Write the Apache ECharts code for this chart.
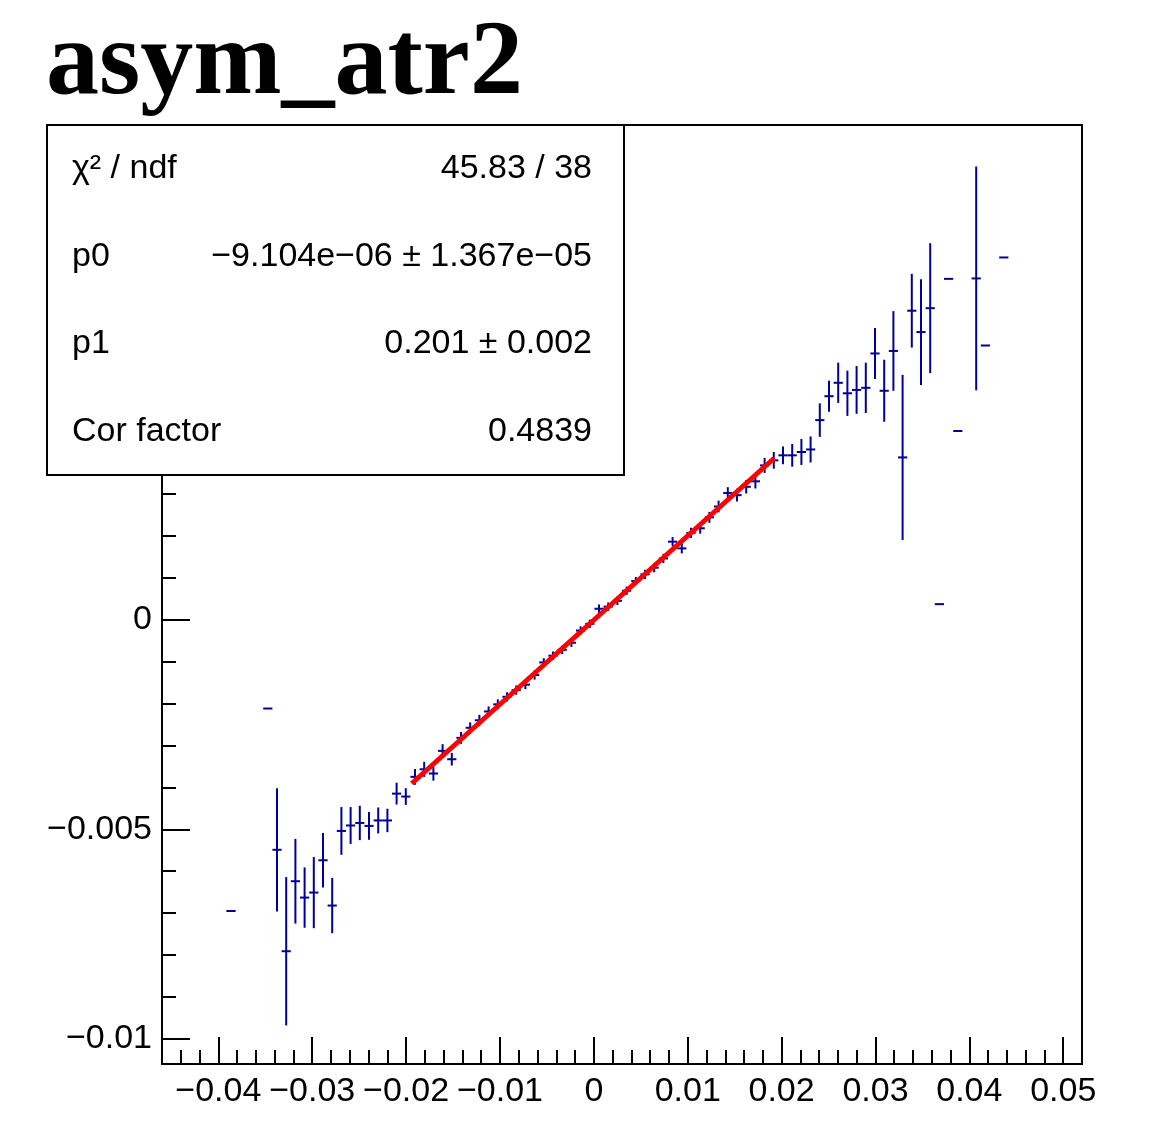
<!DOCTYPE html>
<html lang="en">
<head>
  <meta charset="UTF-8">
  <title>asym_atr2</title>
  <style>
    html, body { margin: 0; padding: 0; background: #fff; }
    #myEcharts { width: 1153px; height: 1133px; }
  </style>
  <script src="https://cdn.jsdelivr.net/npm/echarts@6/dist/echarts.min.js"></script>
</head>
<body>
  <div id="myEcharts"></div>
  <script>
    // profile bin centres, mean values and errors
    var xs = [-0.03865, -0.03473, -0.03375, -0.03277, -0.03179, -0.03081, -0.02983, -0.02885, -0.02787, -0.02689,
      -0.02591, -0.02493, -0.02395, -0.02297, -0.02199, -0.02101, -0.02003, -0.01905, -0.01807, -0.01709,
      -0.01611, -0.01513, -0.01415, -0.01317, -0.01219, -0.01121, -0.01023, -0.00925, -0.00827, -0.00729,
      -0.00631, -0.00533, -0.00435, -0.00337, -0.00239, -0.00141, -0.00043, 0.00055, 0.00153, 0.00251,
      0.00349, 0.00447, 0.00545, 0.00643, 0.00741, 0.00839, 0.00937, 0.01035, 0.01133, 0.01231,
      0.01329, 0.01427, 0.01525, 0.01623, 0.01721, 0.01819, 0.01917, 0.02015, 0.02113, 0.02211,
      0.02309, 0.02407, 0.02505, 0.02603, 0.02701, 0.02799, 0.02897, 0.02995, 0.03093, 0.03191,
      0.03289, 0.03387, 0.03485, 0.03583, 0.03681, 0.03779, 0.03877, 0.04073, 0.04171, 0.04367];
    var ys = [-0.00695, -0.00212, -0.00549, -0.00791, -0.00624, -0.00663, -0.00651, -0.00574, -0.00682, -0.00504,
      -0.00491, -0.00485, -0.00492, -0.00479, -0.00479, -0.00415, -0.00422, -0.00375, -0.00357, -0.00367,
      -0.00313, -0.00333, -0.00282, -0.00258, -0.00240, -0.00219, -0.00202, -0.00184, -0.00168, -0.00155,
      -0.00132, -0.00102, -0.00086, -0.00072, -0.00055, -0.00026, -0.00010, 0.00026, 0.00031, 0.00045,
      0.00069, 0.00092, 0.00108, 0.00124, 0.00146, 0.00186, 0.00170, 0.00207, 0.00218, 0.00244,
      0.00270, 0.00302, 0.00297, 0.00317, 0.00330, 0.00368, 0.00380, 0.00392, 0.00392, 0.00400,
      0.00406, 0.00476, 0.00533, 0.00565, 0.00540, 0.00548, 0.00553, 0.00635, 0.00546, 0.00641,
      0.00387, 0.00737, 0.00686, 0.00743, 0.00037, 0.00813, 0.00450, 0.00814, 0.00654, 0.00864];
    var errs = [0, 0, 0.00147, 0.00177, 0.00101, 0.00072, 0.00085, 0.00065, 0.00066, 0.00057,
      0.00044, 0.00041, 0.00033, 0.00031, 0.00028, 0.00026, 0.00020, 0.00019, 0.00018, 0.00017,
      0.00016, 0.00015, 0.00014, 0.00013, 0.00013, 0.00012, 0.00012, 0.00011, 0.00011, 0.00011,
      0.00011, 0.00010, 0.00010, 0.00010, 0.00010, 0.00010, 0.00010, 0.00010, 0.00010, 0.00010,
      0.00010, 0.00010, 0.00011, 0.00011, 0.00011, 0.00011, 0.00012, 0.00012, 0.00013, 0.00013,
      0.00014, 0.00014, 0.00015, 0.00016, 0.00017, 0.00018, 0.00020, 0.00021, 0.00027, 0.00031,
      0.00031, 0.00040, 0.00037, 0.00048, 0.00054, 0.00057, 0.00060, 0.00061, 0.00074, 0.00095,
      0.00197, 0.00088, 0.00126, 0.00155, 0, 0, 0, 0.00267, 0, 0];

    // fit result pol1
    var fitPars = { p0: -9.104e-06, p1: 0.201 };
    var fitRange = [-0.0194, 0.0192];
    var statNames = ['\u03c7\u00b2 / ndf', 'p0', 'p1', 'Cor factor'];
    var statValues = ['45.83 / 38', '\u22129.104e\u221206 \u00b1 1.367e\u221205', '0.201 \u00b1 0.002', '0.4839'];

    // axis ticks
    var xMajor = [-0.04, -0.03, -0.02, -0.01, 0, 0.01, 0.02, 0.03, 0.04, 0.05];
    var yMajor = [-0.01, -0.005, 0, 0.005, 0.01];
    var yLabels = [-0.01, -0.005, 0];
    var xMinor = [], yMinor = [];
    for (var i = -22; i <= 25; i++) xMinor.push(+(i * 0.002).toFixed(3));
    for (var j = -10; j <= 11; j++) yMinor.push(+(j * 0.001).toFixed(3));

    var halfBin = 0.00049;
    var navy = '#000099';
    var font = 'Liberation Sans, Arial, sans-serif';

    function fmt(v) {
      return String(+(+v).toFixed(4)).replace('-', '\u2212');
    }

    var points = xs.map(function (x, i) { return [x, ys[i], errs[i]]; });
    var fitLine = fitRange.map(function (x) { return [x, fitPars.p0 + fitPars.p1 * x]; });

    var myChart = echarts.init(document.getElementById('myEcharts'), null, { renderer: 'canvas' });

    var tickStyle = { color: '#000', width: 2 };
    function axis(extra) {
      var a = {
        type: 'value',
        axisLine: { show: false, onZero: false },
        splitLine: { show: false }
      };
      for (var k in extra) a[k] = extra[k];
      return a;
    }

    var graphics = [{
      type: 'text', left: 46, top: 13, z: 100,
      style: { text: 'asym_atr2', font: 'bold 106px "Liberation Serif", "Times New Roman", serif', fill: '#000' }
    }, {
      type: 'rect', shape: { x: 47, y: 125, width: 577, height: 350 }, z: 100,
      style: { fill: '#fff', stroke: '#000', lineWidth: 2 }
    }];
    statNames.forEach(function (name, i) {
      var cy = 125 + 87.5 * (i + 0.5);
      graphics.push({
        type: 'text', x: 72, y: cy, z: 101,
        style: { text: name, font: '34px ' + font, fill: '#000', align: 'left', verticalAlign: 'middle' }
      });
      graphics.push({
        type: 'text', x: 592, y: cy, z: 101,
        style: { text: statValues[i], font: '34px ' + font, fill: '#000', align: 'right', verticalAlign: 'middle' }
      });
    });

    option = {
      animation: false,
      backgroundColor: '#fff',
      grid: {
        left: 162, right: 71, top: 125, bottom: 69,
        show: true, borderColor: '#000', borderWidth: 2
      },
      xAxis: [
        axis({
          min: -0.046, max: 0.052, position: 'bottom',
          axisTick: { inside: true, length: 14, lineStyle: tickStyle, customValues: xMinor },
          axisLabel: { show: false }
        }),
        axis({
          min: -0.046, max: 0.052, position: 'bottom',
          axisTick: { inside: true, length: 27, lineStyle: tickStyle, customValues: xMajor },
          axisLabel: { customValues: xMajor, formatter: fmt, color: '#000', fontSize: 34, fontFamily: font, margin: 11 }
        })
      ],
      yAxis: [
        axis({
          min: -0.0106, max: 0.0118, position: 'left',
          axisTick: { inside: true, length: 14, lineStyle: tickStyle, customValues: yMinor },
          axisLabel: { show: false }
        }),
        axis({
          min: -0.0106, max: 0.0118, position: 'left',
          axisTick: { inside: true, length: 28, lineStyle: tickStyle, customValues: yMajor },
          axisLabel: { customValues: yLabels, formatter: fmt, color: '#000', fontSize: 34, fontFamily: font, margin: 10 }
        })
      ],
      graphic: graphics,
      series: [{
        type: 'custom',
        name: 'asym_atr2',
        xAxisIndex: 0, yAxisIndex: 0,
        z: 2,
        data: points,
        encode: { x: 0, y: 1 },
        renderItem: function (params, api) {
          var x = api.value(0), y = api.value(1), e = api.value(2);
          var l = api.coord([x - halfBin, y]);
          var r = api.coord([x + halfBin, y]);
          var st = { stroke: navy, lineWidth: 2 };
          var kids = [{ type: 'line', shape: { x1: l[0], y1: l[1], x2: r[0], y2: r[1] }, style: st }];
          if (e > 0) {
            var t = api.coord([x, y + e]);
            var b = api.coord([x, y - e]);
            kids.push({ type: 'line', shape: { x1: t[0], y1: t[1], x2: b[0], y2: b[1] }, style: st });
          }
          return { type: 'group', children: kids };
        }
      }, {
        type: 'line',
        name: 'pol1',
        xAxisIndex: 0, yAxisIndex: 0,
        z: 3,
        data: fitLine,
        showSymbol: false,
        lineStyle: { color: '#ff0000', width: 5 }
      }]
    };
    myChart.setOption(option);
  </script>
</body>
</html>
